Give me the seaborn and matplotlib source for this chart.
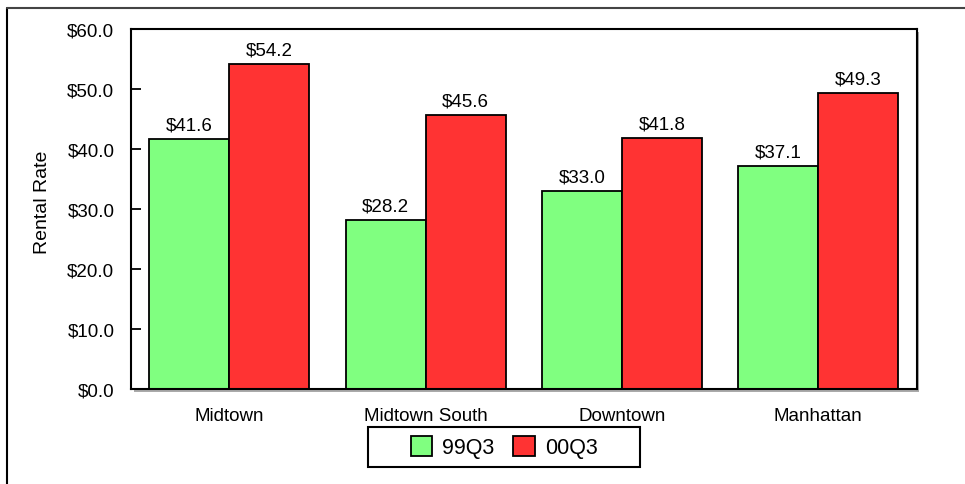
import matplotlib
matplotlib.use("Agg")
import matplotlib.pyplot as plt
import seaborn as sns
import pandas as pd
from matplotlib.patches import Rectangle
from matplotlib.lines import Line2D

submarkets = ["Midtown", "Midtown South", "Downtown", "Manhattan"]
periods = ["99Q3", "00Q3"]
rates_99q3 = [41.6, 28.2, 33.0, 37.1]
rates_00q3 = [54.2, 45.6, 41.8, 49.3]
yticks = [0, 10, 20, 30, 40, 50, 60]

df = pd.DataFrame({
    "Submarket": submarkets * 2,
    "Period": [periods[0]] * 4 + [periods[1]] * 4,
    "Rate": rates_99q3 + rates_00q3,
})

sns.set_theme(style="white")
plt.rcParams["font.family"] = ["Liberation Sans", "DejaVu Sans"]
plt.rcParams["text.color"] = "black"
plt.rcParams["xtick.color"] = "black"
plt.rcParams["ytick.color"] = "black"
plt.rcParams["axes.labelcolor"] = "black"

fig = plt.figure(figsize=(9.65, 4.85), dpi=100)
ax = fig.add_axes([0.1358, 0.196, 0.814, 0.742])

palette = {"99Q3": "#80FF80", "00Q3": "#FF3333"}
sns.barplot(data=df, x="Submarket", y="Rate", hue="Period", order=submarkets,
            hue_order=periods, palette=palette, width=0.814, saturation=1,
            edgecolor="black", linewidth=1.3, ax=ax, legend=True)

ax.set_xlim(-0.5, 3.5)
ax.set_ylim(0, 60)
ax.set_yticks(yticks)
ax.set_yticklabels([f"${v:.1f}" for v in yticks], fontsize=13.5)
ax.set_xlabel("")
ax.set_ylabel("Rental Rate", fontsize=14)
ax.yaxis.set_label_coords(-0.102, 0.52)
ax.tick_params(axis="x", length=0, pad=13, labelsize=13.5)
ax.tick_params(axis="y", direction="in", length=7, width=1.3, pad=12, left=True)
for s in ax.spines.values():
    s.set_color("black")
    s.set_linewidth(1.5)

# value labels above each bar
for container in ax.containers:
    ax.bar_label(container, labels=[f"${b.get_height():.1f}" for b in container],
                 padding=4, fontsize=13.5)

# drop shadow behind the plot frame
shadow = Rectangle((0.1358 + 0.003, 0.196 - 0.006), 0.814, 0.742,
                   transform=fig.transFigure, facecolor="#aaaaaa",
                   edgecolor="none", zorder=-1)
fig.patches.append(shadow)
inner = Rectangle((0.1358, 0.196), 0.814, 0.742, transform=fig.transFigure,
                  facecolor="white", edgecolor="none", zorder=-0.5)
fig.patches.append(inner)

# outer frame lines
fig.add_artist(Line2D([0.0075, 0.0075], [0, 0.982], color="black", lw=1.5,
                      transform=fig.transFigure))
fig.add_artist(Line2D([0.0075, 1.0], [0.982, 0.982], color="#444444", lw=1.5,
                      transform=fig.transFigure))

# legend entries without their own frame, boxed by a wider rectangle
leg = ax.legend(loc="center", bbox_to_anchor=(0.5223, 0.0763),
                bbox_transform=fig.transFigure, ncol=2, frameon=False,
                fontsize=15.5, handlelength=1.0, handleheight=1.1,
                handletextpad=0.45, columnspacing=0.9, borderpad=0.2)
for h in leg.legend_handles:
    h.set_edgecolor("black")
    h.set_linewidth(1.3)
fig.patches.append(Rectangle((0.3813, 0.0351), 0.2819, 0.0825,
                             transform=fig.transFigure, facecolor="white",
                             edgecolor="black", linewidth=1.5, zorder=-0.2))

fig.savefig("out.png", dpi=100)
